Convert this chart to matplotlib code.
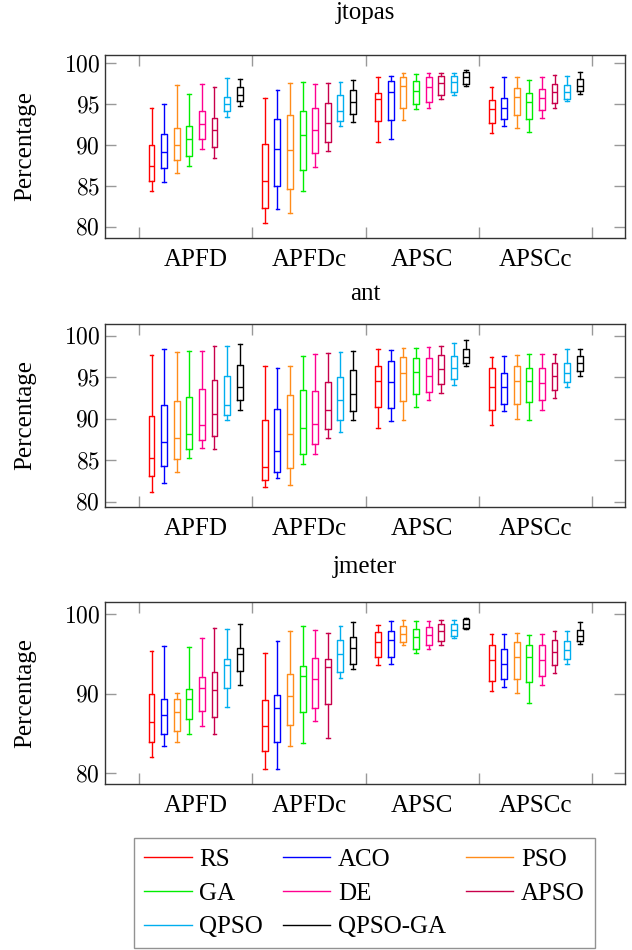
import matplotlib.pyplot as plt
from matplotlib.lines import Line2D

plt.rcParams['font.family'] = ['Liberation Serif', 'DejaVu Serif']
plt.rcParams['mathtext.fontset'] = 'cm'

algorithms = ['RS', 'ACO', 'PSO', 'GA', 'DE', 'APSO', 'QPSO', 'QPSO-GA']
colors = ['#ff0000', '#0000ff', '#ff8c1a', '#00ee00', '#ff0090',
          '#c8004b', '#00aeef', '#000000']
metrics = ['APFD', 'APFDc', 'APSC', 'APSCc']

# each row: (whisker low, q1, median, q3, whisker high), one row per algorithm
jtopas_apfd = [(84.4, 85.6, 87.5, 90.0, 94.5), (85.5, 87.2, 89.2, 91.4, 95.1),
               (86.6, 88.2, 90.0, 92.1, 97.4), (87.4, 88.7, 90.7, 92.4, 96.3),
               (89.5, 90.8, 92.6, 94.2, 97.5), (88.4, 89.8, 91.8, 93.3, 97.1),
               (93.4, 94.2, 95.0, 95.9, 98.2), (94.8, 95.4, 96.2, 97.1, 98.1)]
jtopas_apfdc = [(80.5, 82.3, 85.6, 90.2, 95.8), (82.2, 85.0, 89.5, 93.2, 96.8),
                (81.7, 84.6, 89.4, 93.7, 97.6), (84.4, 87.0, 91.2, 94.2, 97.7),
                (87.3, 89.1, 91.8, 94.5, 97.5), (89.3, 90.4, 92.7, 95.2, 97.6),
                (92.3, 92.9, 94.2, 96.2, 97.7), (92.8, 93.8, 95.3, 96.7, 98.0)]
jtopas_apsc = [(90.4, 92.9, 95.6, 96.4, 98.4), (90.8, 93.1, 96.5, 97.9, 98.5),
               (93.1, 94.6, 97.2, 98.4, 98.8), (94.4, 95.1, 96.6, 97.9, 98.7),
               (94.6, 95.3, 97.1, 98.4, 98.8), (95.6, 96.2, 97.6, 98.5, 98.8),
               (96.2, 96.5, 97.7, 98.5, 98.8), (97.3, 97.5, 98.4, 99.0, 99.2)]
jtopas_apscc = [(91.5, 92.7, 94.4, 95.5, 97.1), (92.3, 93.2, 94.6, 95.8, 98.3),
                (92.1, 93.7, 95.9, 97.0, 98.4), (91.6, 93.2, 95.3, 96.4, 98.0),
                (93.3, 94.3, 95.8, 96.9, 98.3), (94.5, 95.2, 96.5, 97.5, 98.6),
                (95.4, 95.7, 96.5, 97.4, 98.5), (96.3, 96.6, 97.3, 98.1, 99.0)]

ant_apfd = [(81.2, 83.1, 85.3, 90.3, 97.7), (82.3, 84.3, 87.2, 91.6, 98.4),
            (83.6, 85.2, 87.7, 92.1, 98.0), (85.3, 86.4, 88.1, 92.6, 98.1),
            (86.5, 87.4, 89.3, 93.6, 98.1), (86.3, 87.9, 90.6, 94.7, 98.7),
            (89.8, 90.4, 91.7, 95.2, 98.8), (91.1, 92.2, 93.8, 96.5, 99.0)]
ant_apfdc = [(81.8, 82.6, 84.2, 89.8, 96.4), (82.8, 83.6, 86.1, 91.2, 96.1),
             (82.0, 84.1, 88.2, 92.9, 96.4), (84.6, 85.8, 88.9, 93.4, 97.6),
             (85.7, 86.9, 89.4, 93.3, 97.8), (87.7, 88.8, 91.1, 94.4, 97.9),
             (88.4, 89.8, 92.2, 95.0, 98.0), (89.8, 90.9, 93.0, 95.9, 98.2)]
ant_apsc = [(88.9, 91.4, 94.6, 96.4, 98.4), (89.7, 91.3, 94.4, 96.9, 98.3),
            (89.9, 92.1, 95.5, 97.4, 98.5), (91.4, 93.0, 95.6, 97.3, 98.5),
            (92.2, 93.2, 95.1, 97.3, 98.6), (93.1, 94.2, 96.0, 97.7, 98.7),
            (94.1, 94.8, 96.1, 97.6, 99.1), (96.4, 96.7, 97.4, 98.4, 99.5)]
ant_apscc = [(89.2, 91.0, 93.8, 96.1, 97.4), (90.9, 91.8, 93.8, 95.5, 97.6),
             (90.0, 91.8, 94.5, 96.4, 97.7), (89.9, 92.0, 94.6, 96.1, 97.8),
             (91.1, 92.2, 94.3, 96.1, 97.8), (92.5, 93.5, 95.2, 96.7, 97.8),
             (93.8, 94.4, 95.5, 96.7, 98.4), (95.2, 95.7, 96.7, 97.5, 98.4)]

jmeter_apfd = [(82.1, 84.0, 86.4, 90.0, 95.4), (83.5, 85.0, 87.4, 89.4, 96.0),
               (84.0, 85.3, 87.7, 89.4, 90.1), (84.9, 86.8, 89.4, 90.6, 95.9),
               (85.9, 87.9, 90.7, 92.1, 97.0), (84.9, 87.1, 90.5, 92.7, 98.3),
               (88.4, 90.8, 93.6, 94.4, 98.2), (91.1, 92.9, 95.0, 95.8, 98.8)]
jmeter_apfdc = [(80.6, 82.8, 86.0, 89.2, 95.2), (80.5, 83.9, 88.2, 89.8, 96.6),
                (83.5, 86.1, 89.7, 92.5, 97.9), (83.8, 87.7, 92.2, 93.5, 98.6),
                (86.6, 88.2, 91.9, 94.5, 98.0), (84.5, 88.7, 93.4, 94.4, 97.7),
                (92.0, 92.8, 95.0, 96.8, 98.6), (93.1, 93.8, 95.8, 97.2, 99.1)]
jmeter_apsc = [(93.6, 94.7, 96.5, 97.8, 98.7), (93.7, 94.7, 96.8, 97.9, 99.2),
               (96.1, 96.5, 97.6, 98.6, 99.3), (95.1, 95.6, 97.1, 98.2, 99.2),
               (95.7, 96.1, 97.4, 98.4, 99.2), (96.2, 96.7, 97.9, 98.8, 99.3),
               (97.0, 97.3, 98.1, 98.8, 99.3), (98.2, 98.3, 98.8, 99.4, 99.6)]
jmeter_apscc = [(90.3, 91.6, 94.3, 96.2, 97.5), (90.9, 91.9, 93.8, 95.6, 97.5),
                (90.1, 91.9, 94.6, 96.5, 97.7), (88.9, 91.5, 94.7, 96.2, 97.4),
                (91.1, 92.3, 94.3, 96.2, 97.5), (92.6, 93.6, 95.3, 96.8, 97.9),
                (93.8, 94.4, 95.5, 96.7, 97.9), (96.3, 96.6, 97.3, 98.1, 99.0)]

jtopas_yticks = [80, 85, 90, 95, 100]
ant_yticks = [80, 85, 90, 95, 100]
jmeter_yticks = [80, 90, 100]

panels = [
    ('jtopas', [jtopas_apfd, jtopas_apfdc, jtopas_apsc, jtopas_apscc],
     jtopas_yticks, (78.7, 101.05), [0.166, 0.750, 0.823, 0.1922], 26),
    ('ant', [ant_apfd, ant_apfdc, ant_apsc, ant_apscc],
     ant_yticks, (79.4, 101.4), [0.166, 0.4666, 0.823, 0.1923], 17.5),
    ('jmeter', [jmeter_apfd, jmeter_apfdc, jmeter_apsc, jmeter_apscc],
     jmeter_yticks, (78.65, 101.6), [0.166, 0.1747, 0.823, 0.1919], 20.5),
]

GROUP = 9  # 8 boxes + gap per metric


def draw_panel(ax, title, groups, yticks, ylim, title_pad):
    for g, group in enumerate(groups):
        for k, (lo, q1, med, q3, hi) in enumerate(group):
            c = colors[k]
            stats = [{'whislo': lo, 'q1': q1, 'med': med, 'q3': q3,
                      'whishi': hi, 'fliers': []}]
            line = dict(color=c, linewidth=1.0)
            ax.bxp(stats, positions=[g * GROUP + k + 1], widths=0.47,
                   capwidths=0.3, showfliers=False, manage_ticks=False,
                   boxprops=line, whiskerprops=line, capprops=line,
                   medianprops=line)

    ax.set_xlim(-2.7, 38.6)
    ax.set_ylim(*ylim)
    ax.set_xticks([g * GROUP for g in range(len(groups) + 1)], labels=[])
    ax.set_xticks([g * GROUP + 4.5 for g in range(len(groups))],
                  labels=metrics, minor=True)
    ax.set_yticks(yticks, labels=[f'${v}$' for v in yticks])
    ax.tick_params(axis='both', which='major', direction='in', length=8,
                   width=1, color='#999999', top=True, right=True,
                   labelsize=17)
    ax.tick_params(axis='x', which='minor', length=0, labelsize=18, pad=8)
    for s in ax.spines.values():
        s.set_color('#333333')
        s.set_linewidth(1.0)
    ax.set_ylabel('Percentage', fontsize=18, labelpad=20)
    ax.set_title(title, fontsize=18, pad=title_pad)


fig = plt.figure(figsize=(6.32, 9.5), dpi=100)
for title, groups, yticks, ylim, rect, pad in panels:
    ax = fig.add_axes(rect)
    draw_panel(ax, title, groups, yticks, ylim, pad)

# legend is filled row by row in the reference; matplotlib fills columns
ncol = 3
order = [i for c in range(ncol) for i in range(c, len(algorithms), ncol)]
handles = [Line2D([], [], color=colors[i], linewidth=1.0) for i in order]
labels = [algorithms[i] for i in order]
leg = fig.legend(handles, labels, loc='center', ncol=ncol,
                 bbox_to_anchor=(0.5767, 0.0595), fontsize=18,
                 frameon=True, fancybox=False, edgecolor='#777777',
                 handlelength=1.9, handletextpad=0.3, columnspacing=0.8,
                 labelspacing=0.45, borderpad=0.4)
leg.get_frame().set_linewidth(1.0)

fig.savefig('out.png', dpi=100)
